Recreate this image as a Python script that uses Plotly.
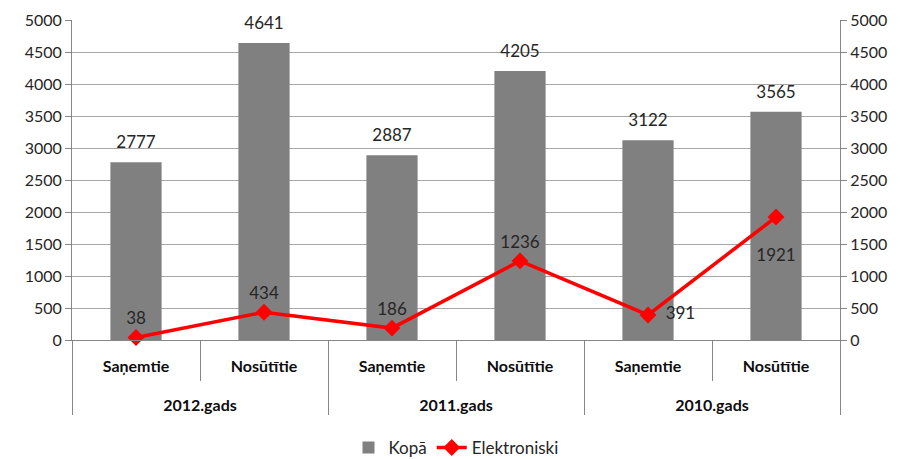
import plotly.graph_objects as go

years = ["2012.gads", "2012.gads", "2011.gads", "2011.gads", "2010.gads", "2010.gads"]
kinds = ["Saņemtie", "Nosūtītie", "Saņemtie", "Nosūtītie", "Saņemtie", "Nosūtītie"]
kopa = [2777, 4641, 2887, 4205, 3122, 3565]
elektroniski = [38, 434, 186, 1236, 391, 1921]
line_label_pos = ["top center", "top center", "top center", "top center", "middle right", "bottom center"]
ticks = [0, 500, 1000, 1500, 2000, 2500, 3000, 3500, 4000, 4500, 5000]

FONT = "Lato, Calibri, Carlito, sans-serif"

# inner labels get a blank trailing line so the group row sits lower, as in the reference
kinds_disp = [k + "<br><span style='font-size:41px'> </span>" for k in kinds]
xcat = [years, kinds_disp]


def line_label(v, p):
    if p == "bottom center":
        return "<br>" + str(v)
    if p == "middle right":
        return "\u2002" + str(v)
    return str(v)


line_text = [line_label(v, p) for v, p in zip(elektroniski, line_label_pos)]

fig = go.Figure()
fig.add_trace(go.Bar(
    x=xcat, y=kopa, name="Kopā",
    marker=dict(color="#808080", line=dict(width=0)),
))
# value labels of the bars (invisible marker gives the label offset from the bar top)
fig.add_trace(go.Scatter(
    x=xcat, y=kopa, mode="markers+text", showlegend=False, hoverinfo="skip",
    marker=dict(size=14, opacity=0),
    text=[str(v) for v in kopa], textposition="top center",
    textfont=dict(size=17, color="#262626", family=FONT),
    cliponaxis=False,
))
fig.add_trace(go.Scatter(
    x=xcat, y=elektroniski, name="Elektroniski",
    mode="lines+markers+text", yaxis="y2",
    line=dict(color="#FF0000", width=3.5),
    marker=dict(symbol="diamond", size=13, color="#FF0000"),
    text=line_text, textposition=line_label_pos,
    textfont=dict(size=17, color="#262626", family=FONT),
    cliponaxis=False,
))

fig.update_layout(
    width=901, height=459,
    margin=dict(l=72, r=61, t=20, b=119, autoexpand=False),
    paper_bgcolor="white", plot_bgcolor="white",
    font=dict(family=FONT, size=16, color="#262626"),
    bargap=0.6,
    showlegend=True,
    legend=dict(orientation="h", x=0.5, xanchor="center", y=-0.3375, yanchor="middle",
                font=dict(size=17, family=FONT), traceorder="normal"),
    xaxis=dict(
        type="multicategory", automargin=False,
        showline=True, linecolor="#868686", linewidth=1,
        ticks="outside", tickson="boundaries", ticklen=40, tickcolor="#868686",
        ticklabelstandoff=12,
        showdividers=True, dividercolor="#868686", dividerwidth=1,
        tickfont=dict(size=16, family=FONT, color="#0d0d0d", weight="bold"),
        showgrid=False,
    ),
    yaxis=dict(
        range=[0, 5000], tickvals=ticks, ticks="outside", ticklen=6, tickcolor="#868686",
        showgrid=True, gridcolor="#a6a6a6", gridwidth=1, automargin=False,
        showline=True, linecolor="#868686", zeroline=False,
        tickfont=dict(size=16, family=FONT, color="#262626"),
    ),
    yaxis2=dict(
        range=[0, 5000], tickvals=ticks, overlaying="y", side="right",
        ticks="outside", ticklen=6, tickcolor="#868686", automargin=False,
        showgrid=False, showline=True, linecolor="#868686", zeroline=False,
        tickfont=dict(size=16, family=FONT, color="#262626"),
    ),
)

fig.write_html("out.html", config={"displayModeBar": False},
               post_script="document.body.style.margin='0';")
